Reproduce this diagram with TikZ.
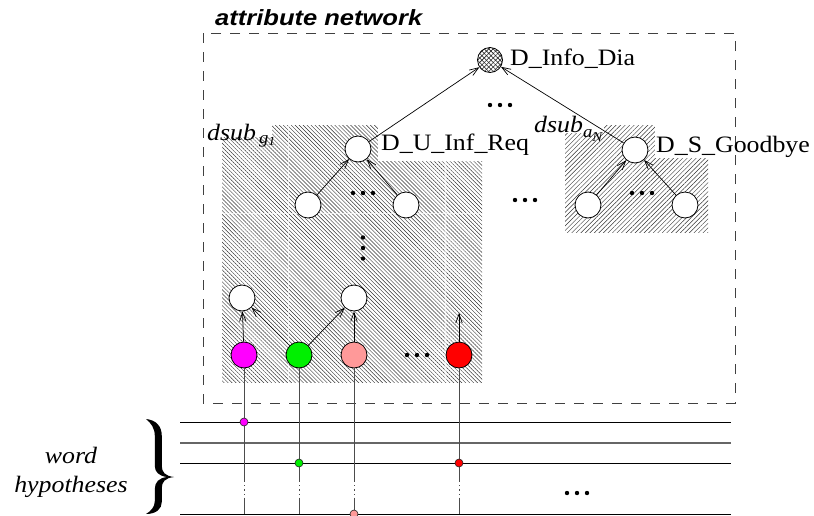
\documentclass[tikz,border=0pt]{standalone}
\usepackage{fontspec}
\newfontfamily\serifw{Liberation Serif}[FakeStretch=1.1]
\newfontfamily\sansw{Liberation Sans}[FakeStretch=1.16]
\usetikzlibrary{arrows.meta,patterns.meta,calc}
\definecolor{leafmag}{RGB}{255,0,255}
\definecolor{leafgreen}{RGB}{0,240,0}
\definecolor{leafpink}{RGB}{255,153,153}
\definecolor{leafred}{RGB}{255,0,0}

\begin{document}
\begin{tikzpicture}[x=1pt,y=-1pt,
  every node/.style={inner sep=0pt},
  vertex/.style={circle,draw=black,line width=0.8pt,fill=white,minimum size=26pt},
  leaf/.style={vertex,fill=#1},
  rootnode/.style={circle,draw=black,line width=0.8pt,minimum size=25pt,
    preaction={fill=white},
    pattern={Lines[angle=45,distance=3.2pt,line width=0.6pt]},pattern color=black!85,
    postaction={pattern={Lines[angle=-45,distance=3.2pt,line width=0.6pt]},pattern color=black!85}},
  wdot/.style={circle,draw=black!85,line width=0.6pt,fill=#1,minimum size=8pt},
  edge/.style={line width=0.7pt,-{Straight Barb[length=9pt,width=6.5pt]}},
  vline/.style={black!70,line width=0.9pt},
  gapline/.style={vline,dash pattern=on 2pt off 3pt on 0.8pt off 3pt},
  wline/.style={black,line width=0.9pt},
  txt/.style={font=\serifw\fontsize{23.5}{26}\selectfont},
  nlabel/.style={txt,anchor=base west},
  sublabel/.style={font=\serifw\itshape\fontsize{23.5}{26}\selectfont,anchor=base west},
  hatchback/.style={pattern={Lines[angle=-45,distance=2.8pt,line width=0.45pt]},pattern color=black!80},
  hatchfwd/.style={pattern={Lines[angle=45,distance=3.2pt,line width=0.45pt]},pattern color=black!80},
  hdots/.pic={\foreach \d in {-10,0,10} \fill (\d,0) circle[radius=2.2];},
  vdots/.pic={\foreach \d in {-10.5,0,10.5} \fill (0,\d) circle[radius=2.2];}
]
\useasboundingbox (0,0) rectangle (814,515);

% hatched sub-networks
\path[hatchback] (222,125) rectangle (482,382);
\path[hatchfwd] (565,125) rectangle (708,232);
\draw[white,opacity=0.7,line width=0.35pt] (288,125) -- (288,382) (445,125) -- (445,382) (222,213) -- (482,213);

% white backgrounds behind the labels
\fill[white] (205,112) rectangle (272,137);
\fill[white] (378,125) rectangle (530,161);
\fill[white] (533,108) rectangle (604,133);
\fill[white] (655,125) rectangle (812,158);

% attribute network frame
\draw[black!75,line width=0.9pt,dash pattern=on 10pt off 9pt] (203,33) rectangle (735,403);
\node[anchor=base west,font=\sansw\bfseries\itshape\fontsize{22}{25}\selectfont] (title) at (215,25) {attribute network};

% network nodes
\node[rootnode] (root) at (490,60) {};
\node[vertex] (U) at (358,149) {};
\node[vertex] (S) at (635,150) {};
\node[vertex] (UL) at (308,205) {};
\node[vertex] (UR) at (406,205) {};
\node[vertex] (SL) at (588,205) {};
\node[vertex] (SR) at (685,205) {};
\node[vertex] (BL) at (242,298) {};
\node[vertex] (BR) at (354,298) {};

% word-hypothesis lines
\coordinate (gapA) at (0,480);
\coordinate (gapB) at (0,500);
\coordinate (base) at (0,514);
\draw[wline] (180,422) -- (731,422);
\draw[black!60,line width=1.3pt] (180,443) -- (731,443);
\draw[wline] (180,463) -- (731,463);
\draw[wline] (180,514) -- (731,514);

% leaves
\node[leaf=leafmag] (lm) at (244,355) {};
\node[leaf=leafgreen] (lg) at (299,355) {};
\node[leaf=leafpink] (lp) at (354,355) {};
\node[leaf=leafred] (lr) at (459,355) {};
\coordinate (rt) at (459,313);

\foreach \n in {lm,lg,lp,lr} {
  \draw[vline] (\n.south) -- (\n |- gapA);
  \draw[gapline] (\n |- gapA) -- (\n |- gapB);
  \draw[vline] (\n |- gapB) -- (\n |- base);
}

\node[wdot=leafmag] (dm) at (244,422) {};
\node[wdot=leafgreen] (dg) at (299,463) {};
\node[wdot=leafred] (dr) at (459,463) {};
\node[wdot=leafpink] (dp) at (354,514) {};

% edges
\draw[edge] (U) -- (root);
\draw[edge] (S) -- (root);
\draw[edge] (UL) -- (U);
\draw[edge] (UR) -- (U);
\draw[edge] (SL) -- (S);
\draw[edge] (SR) -- (S);
\draw[edge] (lm) -- (BL);
\draw[edge] (lg) -- (BL);
\draw[edge] (lg) -- (BR);
\draw[edge] (lp) -- (BR);
\draw[edge] (lr) -- (rt);

% ellipses
\pic at (500,105) {hdots};
\pic at (363,193) {hdots};
\pic at (363,248) {vdots};
\pic at (525,200) {hdots};
\pic at (642,193) {hdots};
\pic at (417,355) {hdots};
\pic at (577,493) {hdots};

% labels
\node[nlabel] (tInfo) at (510,65) {D\_Info\_Dia};
\node[nlabel] (tU) at (381,150) {D\_U\_Inf\_Req};
\node[nlabel] (tS) at (656,152) {D\_S\_Goodbye};
\node[sublabel] (subg) at (207,140) {dsub\hspace{3pt}\raisebox{-3pt}{\fontsize{17}{18}\selectfont g\raisebox{-2pt}{\fontsize{12.5}{13}\selectfont 1}}};
\node[sublabel] (suba) at (534,132) {dsub\raisebox{-5pt}{\fontsize{17}{18}\selectfont a\raisebox{-4pt}{\fontsize{13.5}{14}\selectfont N}}};

% brace and caption
\fill (146,419) .. controls (156,420) and (161.8,426) .. (161.8,436) -- (161.8,466)
  .. controls (161.8,472) and (165,476) .. (174,477)
  .. controls (165,478) and (161.8,482) .. (161.8,488) -- (161.8,502)
  .. controls (161.8,509) and (156,514) .. (146,514)
  .. controls (151,511) and (154.8,507) .. (154.8,501) -- (154.8,489)
  .. controls (154.8,482) and (159,478) .. (167,477)
  .. controls (159,476) and (154.8,472) .. (154.8,466) -- (154.8,436)
  .. controls (154.8,428) and (151,423) .. (146,419) -- cycle;
\node[font=\serifw\itshape\fontsize{23.5}{26}\selectfont,anchor=base] (w1) at (71,463) {word};
\node[font=\serifw\itshape\fontsize{23.5}{26}\selectfont,anchor=base] (w2) at (71,492) {hypotheses};
\end{tikzpicture}
\end{document}
